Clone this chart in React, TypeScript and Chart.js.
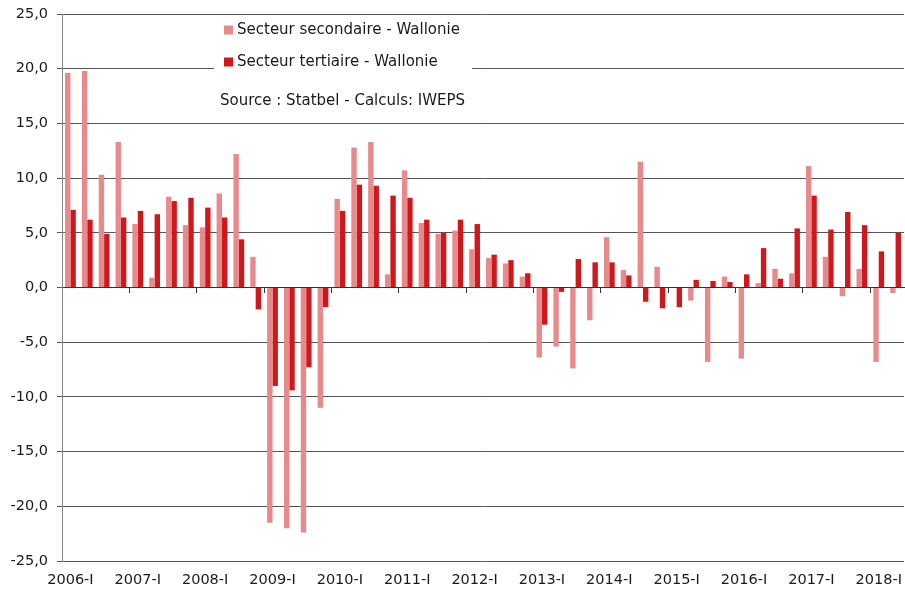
import { useEffect, useRef } from 'react';
import { Chart, registerables } from 'chart.js';

Chart.register(...registerables);

// Categories: quarters 2006-I .. 2018-II
const years = [2006, 2007, 2008, 2009, 2010, 2011, 2012, 2013, 2014, 2015, 2016, 2017, 2018];
const quarters = ['I', 'II', 'III', 'IV'];
const categories: string[] = years
  .flatMap((y) => quarters.map((q) => `${y}-${q}`))
  .slice(0, 50);

// Secteur secondaire - Wallonie
const secondaire = [
  19.6, 19.8, 10.3, 13.3,
  5.8, 0.9, 8.3, 5.7,
  5.5, 8.6, 12.2, 2.8,
  -21.5, -22.0, -22.4, -11.0,
  8.1, 12.8, 13.3, 1.2,
  10.7, 5.9, 4.9, 5.2,
  3.5, 2.7, 2.2, 1.0,
  -6.4, -5.4, -7.4, -3.0,
  4.6, 1.6, 11.5, 1.9,
  0.0, -1.2, -6.8, 1.0,
  -6.5, 0.4, 1.7, 1.3,
  11.1, 2.8, -0.8, 1.7,
  -6.8, -0.5,
];

// Secteur tertiaire - Wallonie
const tertiaire = [
  7.1, 6.2, 4.9, 6.4,
  7.0, 6.7, 7.9, 8.2,
  7.3, 6.4, 4.4, -2.0,
  -9.0, -9.4, -7.3, -1.8,
  7.0, 9.4, 9.3, 8.4,
  8.2, 6.2, 5.0, 6.2,
  5.8, 3.0, 2.5, 1.3,
  -3.4, -0.4, 2.6, 2.3,
  2.3, 1.1, -1.3, -1.9,
  -1.8, 0.7, 0.6, 0.5,
  1.2, 3.6, 0.8, 5.4,
  8.4, 5.3, 6.9, 5.7,
  3.3, 5.0,
];

const seriesLabels = ['Secteur secondaire - Wallonie', 'Secteur tertiaire - Wallonie'];
const sourceText = 'Source : Statbel - Calculs: IWEPS';
const yMin = -25;
const yMax = 25;
const yStep = 5;

const PINK = '#E8898C';
const RED = '#D0181C';
const TEXT = '#1a1a1a';
const FONT_FAMILY = '"DejaVu Sans", "Open Sans", sans-serif';

const legendPlugin = {
  id: 'boxLegend',
  afterDraw(chart: any) {
    const ctx = chart.ctx as CanvasRenderingContext2D;
    ctx.save();
    ctx.fillStyle = '#ffffff';
    ctx.fillRect(214, 16, 258, 55);
    ctx.font = `15px ${FONT_FAMILY}`;
    ctx.textBaseline = 'middle';
    ctx.textAlign = 'left';
    chart.data.datasets.forEach((ds: any, i: number) => {
      const y = 30 + i * 32;
      ctx.fillStyle = ds.backgroundColor;
      ctx.fillRect(224, y - 4.5, 9, 9);
      ctx.fillStyle = TEXT;
      ctx.fillText(ds.label, 237, y);
    });
    ctx.fillStyle = TEXT;
    ctx.fillText(sourceText, 220, 101);
    ctx.restore();
  },
};

export default function App() {
  const canvasRef = useRef<HTMLCanvasElement | null>(null);

  useEffect(() => {
    document.body.style.margin = '0';
    const canvas = canvasRef.current;
    if (!canvas) return;
    const chart = new Chart(canvas, {
      type: 'bar',
      data: {
        labels: categories,
        datasets: [
          {
            label: seriesLabels[0],
            data: secondaire,
            backgroundColor: PINK,
            borderWidth: 0,
            categoryPercentage: 0.64,
            barPercentage: 1.0,
          },
          {
            label: seriesLabels[1],
            data: tertiaire,
            backgroundColor: RED,
            borderWidth: 0,
            categoryPercentage: 0.64,
            barPercentage: 1.0,
          },
        ],
      },
      options: {
        responsive: false,
        animation: false,
        layout: { padding: { top: 14, right: 1, left: 0, bottom: 0 } },
        plugins: {
          legend: { display: false },
          tooltip: { enabled: false },
          title: { display: false },
        },
        scales: {
          x: {
            type: 'category',
            position: 'bottom',
            offset: true,
            grid: { display: false, drawTicks: false },
            border: { display: false },
            ticks: {
              autoSkip: false,
              maxRotation: 0,
              minRotation: 0,
              padding: 11,
              color: TEXT,
              font: { family: FONT_FAMILY, size: 14.5 },
              callback: (_v: any, i: number) => (i % 4 === 0 ? categories[i] : ''),
            },
            afterFit: (scale: any) => {
              scale.height = 30;
              scale.paddingLeft = 0;
              scale.paddingRight = 0;
            },
          },
          xZero: {
            type: 'category',
            axis: 'x',
            position: { y: 0 },
            offset: true,
            grid: {
              offset: true,
              drawOnChartArea: false,
              drawTicks: true,
              tickLength: 5,
              color: (ctx: any) => (ctx.index % 4 === 0 ? '#333333' : 'rgba(0,0,0,0)'),
            },
            border: { display: true, color: '#333333', width: 1 },
            ticks: { display: false, autoSkip: false },
          },
          y: {
            min: yMin,
            max: yMax,
            ticks: {
              stepSize: yStep,
              padding: 9,
              color: TEXT,
              font: { family: FONT_FAMILY, size: 14.5 },
              callback: (v: any) => Number(v).toFixed(1).replace('.', ','),
            },
            grid: {
              color: '#555555',
              lineWidth: 1,
              drawTicks: true,
              tickLength: 5,
            },
            border: { display: true, color: '#888888', width: 1 },
            afterFit: (scale: any) => {
              scale.width = 62;
              scale.paddingTop = 0;
              scale.paddingBottom = 0;
            },
          },
        },
      } as any,
      plugins: [legendPlugin],
    });
    return () => chart.destroy();
  }, []);

  return (
    <div style={{ width: 905, height: 591 }}>
      <canvas ref={canvasRef} width={905} height={591} />
    </div>
  );
}
